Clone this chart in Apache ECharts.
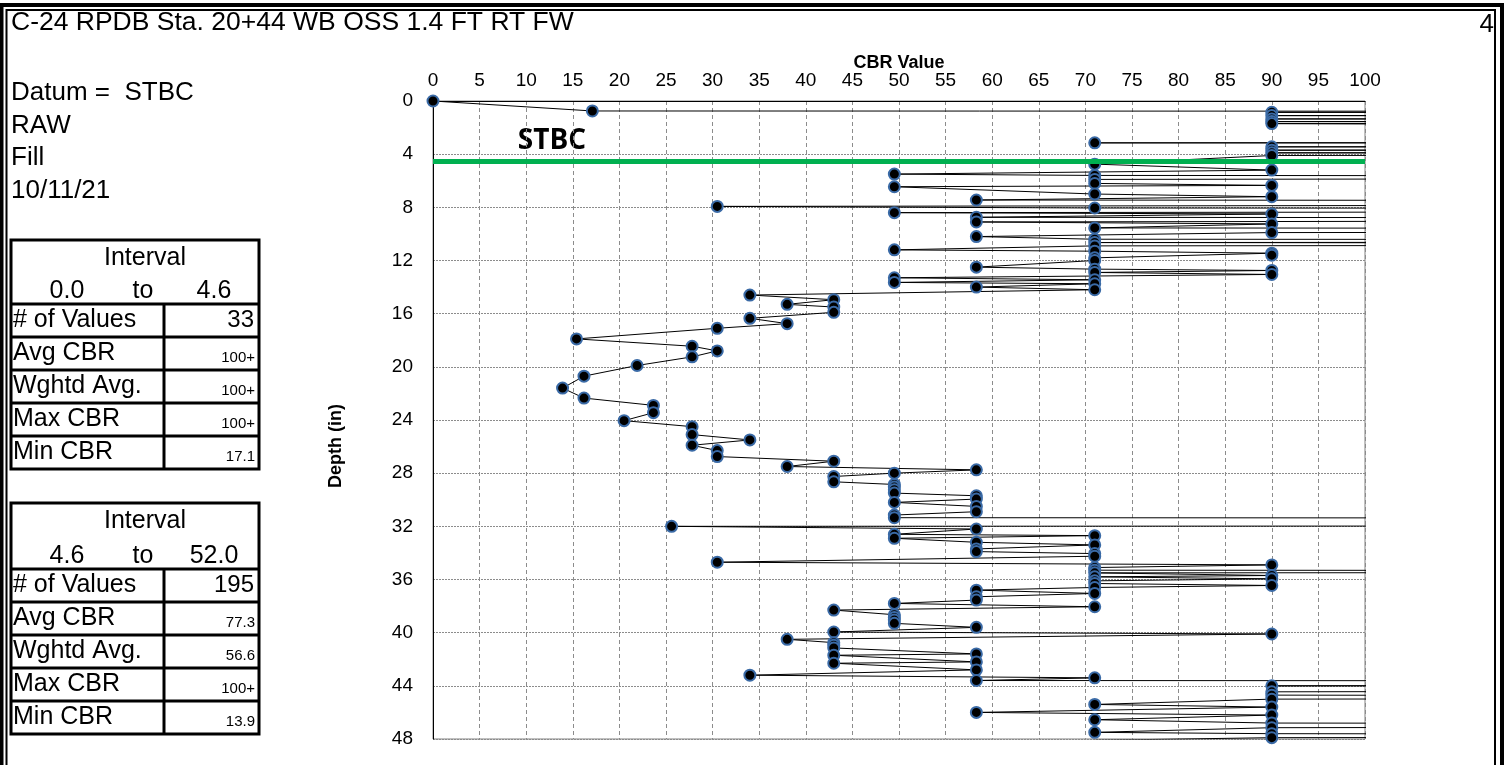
<!doctype html>
<html><head><meta charset="utf-8" />
<style>
  html,body,#app{margin:0;padding:0;width:1509px;height:765px;background:#ffffff;overflow:hidden}
</style>
</head><body><div id="app"></div>
<script src="https://cdn.jsdelivr.net/npm/echarts@6/dist/echarts.min.js"></script>
<script>
// CBR profile; values over 100 run off the right edge
const cbrValues = [
  0, 17.1, 300, 90, 320, 90, 300, 90, 320, 90, 300, 90, 400, 400, 71, 400, 90, 300, 90, 320, 90, 300, 90,
  71, 90, 49.5, 71, 300, 71, 71, 90, 49.5, 71, 90, 58.3, 400, 30.5, 71, 400, 49.5, 90, 58.3, 300, 58.3, 90,
  71, 400, 90, 58.3, 71, 400, 71, 300, 71, 49.5, 71, 90, 90, 71, 71, 58.3, 71, 90, 71, 90, 49.5, 71, 49.5,
  71, 58.3, 71, 34, 43, 38, 43, 43, 34, 38, 30.5, 15.4, 27.8, 30.5, 27.8, 21.9, 16.2, 13.9, 16.2, 23.65,
  23.65, 20.5, 27.8, 27.8, 34, 27.8, 30.5, 30.5, 43, 38, 58.3, 49.5, 43, 43, 49.5, 49.5, 49.5, 49.5, 58.3,
  58.3, 49.5, 58.3, 58.3, 49.5, 49.5, 400, 400, 25.6, 58.3, 49.5, 71, 49.5, 58.3, 71, 58.3, 58.3, 71, 71,
  30.5, 90, 71, 71, 400, 71, 90, 71, 90, 71, 71, 90, 71, 58.3, 71, 58.3, 58.3, 49.5, 71, 43, 49.5, 49.5,
  49.5, 49.5, 58.3, 43, 90, 38, 43, 43, 43, 58.3, 43, 58.3, 43, 58.3, 34, 71, 58.3, 400, 90, 400, 90, 90,
  300, 90, 71, 90, 58.3, 90, 71, 90, 300, 90, 71, 90, 300, 90, 71, 400
];
const depthValues = [
  0, 0.75, 0.8, 0.85, 0.95, 1.1, 1.2, 1.35, 1.45, 1.55, 1.62, 1.7, 2.5, 3.0, 3.15, 3.2, 3.45, 3.55, 3.7, 3.8, 3.9, 4.0, 4.1,
  4.75, 5.2, 5.5, 5.6, 5.7, 5.9, 6.2, 6.35, 6.45, 7.0, 7.2, 7.45, 7.6, 7.93, 8.05, 8.15, 8.4, 8.5, 8.75, 8.85, 9.1, 9.25,
  9.55, 9.7, 9.9, 10.2, 10.4, 10.5, 10.65, 10.75, 10.9, 11.2, 11.3, 11.45, 11.6, 11.8, 12.0, 12.5, 12.65, 12.75, 12.9, 13.05, 13.3, 13.45, 13.65,
  13.75, 14.0, 14.2, 14.6, 14.95, 15.3, 15.5, 15.9, 16.35, 16.75, 17.1, 17.9, 18.45, 18.8, 19.25, 19.9, 20.7, 21.6, 22.35, 22.9,
  23.45, 24.05, 24.5, 25.1, 25.5, 25.9, 26.3, 26.75, 27.1, 27.5, 27.75, 28.0, 28.25, 28.65, 28.85, 29.05, 29.25, 29.5, 29.7,
  29.95, 30.2, 30.5, 30.9, 31.15, 31.35, 31.45, 31.9, 32.0, 32.2, 32.6, 32.7, 32.9, 33.2, 33.4, 33.7, 33.9, 34.05, 34.25,
  34.7, 34.9, 35.1, 35.3, 35.4, 35.5, 35.7, 35.8, 35.95, 36.1, 36.3, 36.45, 36.6, 36.8, 37.05, 37.3, 37.55, 37.8, 38.05, 38.3, 38.65, 38.85,
  39.05, 39.3, 39.6, 39.95, 40.1, 40.5, 40.75, 40.95, 41.15, 41.6, 41.7, 42.2, 42.3, 42.8, 43.2, 43.4, 43.6, 43.7, 44.0, 44.1, 44.45, 44.7,
  44.85, 45.0, 45.4, 45.6, 46.0, 46.2, 46.55, 46.8, 46.95, 47.15, 47.5, 47.6, 47.75, 47.9, 48.1, 48.2
];
const datumDepth = 4.5;
const headerLines = ['Datum =  STBC', 'RAW', 'Fill', '10/11/21'];
const rowLabels = ['# of Values', 'Avg CBR', 'Wghtd Avg.', 'Max CBR', 'Min CBR'];
const interval1 = { from: '0.0', to: '4.6', values: ['33', '100+', '100+', '100+', '17.1'] };
const interval2 = { from: '4.6', to: '52.0', values: ['195', '77.3', '56.6', '100+', '13.9'] };

const FONT = '"Liberation Sans", Arial, sans-serif';
const points = cbrValues.map((v, i) => [v, depthValues[i]]);

function txt(x, y, s, size, align, weight) {
  return { type: 'text', x, y, style: { text: s, font: (weight || '') + ' ' + size + 'px ' + FONT, fill: '#000', align: align || 'left', verticalAlign: 'middle' } };
}

function statTable(top, head, iv) {
  const L = 11, M = 164, R = 259, rowH = 33;
  const bottom = top + head + rowH * rowLabels.length;
  const stroke = { stroke: '#000', lineWidth: 3 };
  const els = [
    { type: 'rect', shape: { x: L, y: top, width: R - L, height: bottom - top }, style: Object.assign({ fill: 'none' }, stroke) },
    { type: 'line', shape: { x1: M, y1: top + head, x2: M, y2: bottom }, style: stroke },
    txt(145, top + 18, 'Interval', 25, 'center'),
    txt(67, top + head - 13, iv.from, 25, 'center'),
    txt(143, top + head - 13, 'to', 25, 'center'),
    txt(214, top + head - 13, iv.to, 25, 'center')
  ];
  rowLabels.forEach((lab, i) => {
    const y0 = top + head + rowH * i;
    els.push({ type: 'line', shape: { x1: L, y1: y0, x2: R, y2: y0 }, style: stroke });
    els.push(txt(L + 2, y0 + rowH / 2, lab, 25));
    els.push(i === 0 ? txt(R - 5, y0 + rowH / 2, iv.values[i], 24, 'right') : txt(R - 4, y0 + rowH / 2 + 4, iv.values[i], 15, 'right'));
  });
  return els;
}

const chart = echarts.init(document.getElementById('app'), null, { renderer: 'canvas' });
const graphics = [
  { type: 'rect', shape: { x: 1.5, y: 5, width: 1500.5, height: 800 }, style: { fill: 'none', stroke: '#000', lineWidth: 4 } },
  { type: 'rect', shape: { x: 6.5, y: 10, width: 1488.5, height: 800 }, style: { fill: 'none', stroke: '#000', lineWidth: 2 } },
  txt(11, 23, 'C-24 RPDB Sta. 20+44 WB OSS 1.4 FT RT FW', 26.5),
  txt(1494, 25, '4', 26, 'right'),
  { type: 'text', x: 552, y: 141, style: { text: 'STBC', font: 'bold 28px "Open Sans", "Noto Sans", sans-serif', fill: '#000', align: 'center', verticalAlign: 'middle' } },
  { type: 'text', x: 336, y: 446, rotation: Math.PI / 2, style: { text: 'Depth (in)', font: 'bold 18px ' + FONT, fill: '#000', align: 'center', verticalAlign: 'middle' } }
];
headerLines.forEach((s, i) => graphics.push(txt(11, 93 + i * 32.6, s, 26)));
graphics.push(...statTable(240, 64, interval1), ...statTable(503, 66, interval2));

chart.setOption({
  backgroundColor: '#ffffff',
  animation: false,
  graphic: graphics,
  grid: { left: 433, top: 101, width: 932, height: 638, show: true, borderColor: '#808080', borderWidth: 1 },
  xAxis: {
    type: 'value', position: 'top', min: 0, max: 100, interval: 5,
    name: 'CBR Value', nameLocation: 'middle', nameGap: 29, nameMoveOverlap: false,
    nameTextStyle: { fontFamily: FONT, fontWeight: 'bold', fontSize: 18, color: '#000' },
    axisLine: { show: true, lineStyle: { color: '#000', width: 1 } },
    axisTick: { show: false },
    axisLabel: { fontFamily: FONT, fontSize: 19, color: '#000', margin: 11 },
    splitLine: { show: true, lineStyle: { color: '#8c8c8c', type: [4, 3], width: 1 } }
  },
  yAxis: {
    type: 'value', inverse: true, min: 0, max: 48, interval: 4,
    axisLine: { show: true, lineStyle: { color: '#000', width: 1 } },
    axisTick: { show: false },
    axisLabel: { fontFamily: FONT, fontSize: 19, color: '#000', margin: 20 },
    splitLine: { show: true, lineStyle: { color: '#8c8c8c', type: [2, 1], width: 1 } }
  },
  series: [{
    type: 'line', data: points, clip: true,
    symbol: 'circle', symbolSize: 11, showAllSymbol: true,
    itemStyle: { color: '#000', borderColor: '#3a6aa6', borderWidth: 2 },
    lineStyle: { color: '#000', width: 1 },
    z: 3,
    markLine: {
      silent: true, symbol: 'none', animation: false,
      label: { show: false },
      lineStyle: { color: '#00b050', width: 5, type: 'solid' },
      data: [{ yAxis: datumDepth }]
    }
  }]
});
</script></body></html>
